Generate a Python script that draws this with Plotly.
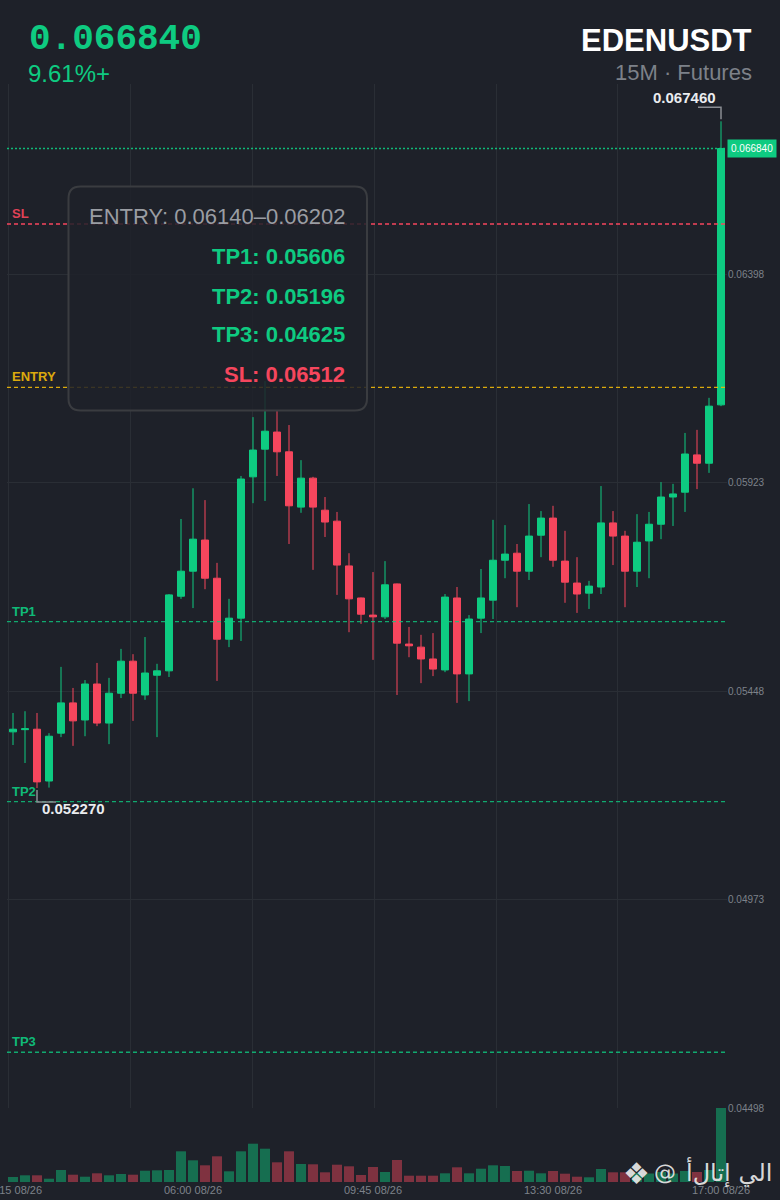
import pandas as pd
import plotly.graph_objects as go

# ---- data -------------------------------------------------------------
symbol = "EDENUSDT"
subtitle = "15M · Futures"
change_text = "9.61%+"
wm_logo = "❖"
wm_at = "@"
wm_name = "الي" + " " + "إتال" + "\u200c" + "أ"

times = pd.date_range("2025-08-26 02:15", periods=60, freq="15min")
time_ticks = ["02:15", "06:00", "09:45", "13:30", "17:00"]

opens = [0.05355, 0.05360, 0.05361, 0.05243, 0.05352, 0.05421, 0.05382, 0.05464, 0.05375, 0.05443,
         0.05516, 0.05439, 0.05484, 0.05494, 0.05664, 0.05721, 0.05792, 0.05705, 0.05566, 0.05614,
         0.05936, 0.05999, 0.06038, 0.05993, 0.05867, 0.05933, 0.05860, 0.05835, 0.05733, 0.05660,
         0.05621, 0.05617, 0.05692, 0.05555, 0.05548, 0.05521, 0.05496, 0.05660, 0.05487, 0.05614,
         0.05655, 0.05746, 0.05762, 0.05721, 0.05803, 0.05842, 0.05744, 0.05694, 0.05671, 0.05685,
         0.05831, 0.05801, 0.05721, 0.05790, 0.05828, 0.05890, 0.05901, 0.05986, 0.05967, 0.06100]
highs = [0.05398, 0.05402, 0.05398, 0.05352, 0.05503, 0.05455, 0.05473, 0.05512, 0.05478, 0.05544,
         0.05532, 0.05571, 0.05510, 0.05669, 0.05840, 0.05910, 0.05883, 0.05740, 0.05658, 0.05938,
         0.06072, 0.06154, 0.06088, 0.06054, 0.05974, 0.05936, 0.05890, 0.05856, 0.05762, 0.05661,
         0.05719, 0.05744, 0.05693, 0.05594, 0.05576, 0.05580, 0.05669, 0.05685, 0.05621, 0.05726,
         0.05838, 0.05826, 0.05783, 0.05874, 0.05858, 0.05870, 0.05813, 0.05753, 0.05699, 0.05915,
         0.05858, 0.05813, 0.05851, 0.05856, 0.05924, 0.05920, 0.06036, 0.06043, 0.06116, 0.06746]
lows = [0.05325, 0.05284, 0.05227, 0.05228, 0.05343, 0.05323, 0.05345, 0.05368, 0.05327, 0.05432,
        0.05380, 0.05428, 0.05343, 0.05480, 0.05658, 0.05637, 0.05680, 0.05471, 0.05548, 0.05562,
        0.05876, 0.05881, 0.05938, 0.05783, 0.05854, 0.05724, 0.05799, 0.05667, 0.05582, 0.05601,
        0.05519, 0.05612, 0.05439, 0.05525, 0.05466, 0.05482, 0.05491, 0.05421, 0.05425, 0.05580,
        0.05612, 0.05705, 0.05639, 0.05701, 0.05753, 0.05731, 0.05649, 0.05626, 0.05635, 0.05669,
        0.05735, 0.05639, 0.05685, 0.05705, 0.05794, 0.05824, 0.05856, 0.05908, 0.05945, 0.06097]
closes = [0.05361, 0.05362, 0.05241, 0.05345, 0.05421, 0.05380, 0.05464, 0.05375, 0.05443, 0.05516,
          0.05443, 0.05489, 0.05494, 0.05667, 0.05721, 0.05794, 0.05705, 0.05566, 0.05614, 0.05931,
          0.05997, 0.06040, 0.05993, 0.05870, 0.05933, 0.05867, 0.05833, 0.05735, 0.05658, 0.05623,
          0.05617, 0.05690, 0.05557, 0.05551, 0.05521, 0.05498, 0.05662, 0.05487, 0.05612, 0.05660,
          0.05746, 0.05760, 0.05721, 0.05801, 0.05842, 0.05746, 0.05696, 0.05669, 0.05687, 0.05831,
          0.05801, 0.05721, 0.05787, 0.05828, 0.05890, 0.05897, 0.05988, 0.05967, 0.06097, 0.06684]
volumes = [50, 67, 67, 33, 120, 73, 53, 87, 67, 80,
           73, 113, 117, 120, 307, 217, 167, 257, 107, 307,
           383, 333, 197, 307, 180, 177, 97, 173, 157, 70,
           150, 100, 220, 63, 63, 63, 87, 147, 87, 133,
           167, 160, 110, 113, 87, 110, 83, 53, 47, 130,
           97, 97, 90, 85, 100, 85, 110, 100, 120, 740]

entry_lo, entry_hi = 0.06140, 0.06202
tp_levels = {"TP1": 0.05606, "TP2": 0.05196, "TP3": 0.04625}
sl_level = 0.06512

price_ticks = [0.04498, 0.04973, 0.05448, 0.05923, 0.06398]

# ---- look ---------------------------------------------------------------
BG = "#1e2129"
GRID = "#2a2e35"
GREEN = "#0ecb81"
RED = "#f6465d"
GOLD = "#f0b90b"
GREY = "#7d8189"
FONT = "Liberation Sans, Arial, sans-serif"

W, H = 780, 1200
ML, MR, MT, MB = 7, 53, 84, 18
PW, PH = W - ML - MR, H - MT - MB
PRICE_BOTTOM = 1108          # pixel row where the price pane ends
Y_RANGE = [0.04498, 0.06831]


def fx(px):
    return (px - ML) / PW


def fy(py):
    return (H - MB - py) / PH


vol_top = fy(PRICE_BOTTOM)
price_per_px = (Y_RANGE[1] - Y_RANGE[0]) / (PRICE_BOTTOM - MT)
idx_per_px = 60 / PW

idx = list(range(len(times)))
vol_colors = ["rgba(14,203,129,0.45)" if c >= o else "rgba(246,70,93,0.45)"
              for o, c in zip(opens, closes)]
tick_idx = [i for i, t in enumerate(times) if t.strftime("%H:%M") in time_ticks]
tick_txt = [times[i].strftime("%H:%M %m/%d") for i in tick_idx]

fig = go.Figure()

fig.add_trace(go.Candlestick(
    x=idx, open=opens, high=highs, low=lows, close=closes,
    increasing=dict(line=dict(color=GREEN, width=1), fillcolor=GREEN),
    decreasing=dict(line=dict(color=RED, width=1), fillcolor=RED),
    whiskerwidth=0, hoverinfo="skip", showlegend=False,
    xaxis="x", yaxis="y",
))

fig.add_trace(go.Bar(
    x=idx, y=volumes, marker=dict(color=vol_colors, line=dict(width=0)),
    hoverinfo="skip", showlegend=False, xaxis="x2", yaxis="y2",
))

shapes = []
annotations = []

# level lines
levels = [
    (closes[-1], GREEN, "2px,2px", 0.9, None),
    (sl_level, RED, "4px,3px", 1, "SL"),
    (entry_lo, GOLD, "4px,3px", 0.9, "ENTRY"),
]
for name, val in tp_levels.items():
    levels.append((val, GREEN, "4px,3px", 0.8, name))

for val, col, dash, op, label in levels:
    shapes.append(dict(type="line", xref="paper", yref="y", x0=0, x1=1, y0=val, y1=val,
                       line=dict(color=col, width=1.3, dash=dash), opacity=op, layer="above"))
    if label:
        annotations.append(dict(xref="paper", yref="y", x=fx(10), y=val, xanchor="left",
                                yanchor="bottom", yshift=1, showarrow=False, text=f"<b>{label}</b>",
                                font=dict(family=FONT, size=13, color=col), opacity=0.9))

# signal box
bx0, bx1, by0, by1, r = 68.5, 367, 186.5, 410.5, 12
pts = [("M", bx0 + r, by0), ("L", bx1 - r, by0), ("Q", bx1, by0, bx1, by0 + r),
       ("L", bx1, by1 - r), ("Q", bx1, by1, bx1 - r, by1), ("L", bx0 + r, by1),
       ("Q", bx0, by1, bx0, by1 - r), ("L", bx0, by0 + r), ("Q", bx0, by0, bx0 + r, by0)]
path = ""
for p in pts:
    coords = p[1:]
    seg = " ".join(f"{fx(coords[i]):.5f},{fy(coords[i + 1]):.5f}" for i in range(0, len(coords), 2))
    path += f"{p[0]} {seg} "
shapes.append(dict(type="path", xref="paper", yref="paper", path=path + "Z",
                   fillcolor="rgba(30,33,41,0.85)", line=dict(color="#3a3c40", width=2),
                   layer="above"))

box_lines = [
    (f"ENTRY: {entry_lo:.5f}–{entry_hi:.5f}", "#9a9da3", False, 216.5),
    (f"TP1: {tp_levels['TP1']:.5f}", GREEN, True, 256.5),
    (f"TP2: {tp_levels['TP2']:.5f}", GREEN, True, 296.5),
    (f"TP3: {tp_levels['TP3']:.5f}", GREEN, True, 334.5),
    (f"SL: {sl_level:.5f}", RED, True, 374.5),
]
for txt, col, bold, ypx in box_lines:
    annotations.append(dict(xref="paper", yref="paper", x=fx(347), y=fy(ypx), xanchor="right",
                            yanchor="middle", showarrow=False,
                            text=f"<b>{txt}</b>" if bold else txt,
                            font=dict(family=FONT, size=22, color=col)))

# high / low markers
hi_i = highs.index(max(highs))
hi = highs[hi_i]
shapes.append(dict(type="path", xref="x", yref="y", layer="above",
                   path=(f"M {hi_i},{hi + 2 * price_per_px} L {hi_i},{hi + 14 * price_per_px} "
                         f"L {hi_i - 23 * idx_per_px},{hi + 14 * price_per_px}"),
                   line=dict(color="#8a8d93", width=1.5)))
annotations.append(dict(xref="x", yref="y", x=hi_i, y=hi, xanchor="right", yanchor="bottom",
                        xshift=-3, yshift=13, showarrow=False, text=f"<b>{hi:.6f}</b>",
                        font=dict(family=FONT, size=15, color="#eaecef")))

lo_i = lows.index(min(lows))
lo = lows[lo_i]
shapes.append(dict(type="path", xref="x", yref="y", layer="above",
                   path=(f"M {lo_i},{lo - 2 * price_per_px} L {lo_i},{lo - 14 * price_per_px} "
                         f"L {lo_i + 19 * idx_per_px},{lo - 14 * price_per_px}"),
                   line=dict(color="#8a8d93", width=1.5)))
annotations.append(dict(xref="x", yref="y", x=lo_i, y=lo, xanchor="left", yanchor="middle",
                        xshift=3, yshift=-20, showarrow=False, text=f"<b>{lo:.6f}</b>",
                        font=dict(family=FONT, size=15, color="#eaecef")))

# last price tag
annotations.append(dict(xref="paper", yref="y", x=1, y=closes[-1], xanchor="left", yanchor="middle",
                        showarrow=False, text=f"{closes[-1]:.6f}", bgcolor=GREEN, borderpad=3,
                        font=dict(family=FONT, size=10, color="white")))

# header
annotations += [
    dict(xref="paper", yref="paper", x=fx(27), y=fy(39), xanchor="left", yanchor="middle",
         showarrow=False, text=f"<b>{closes[-1]:.6f}</b>",
         font=dict(family="Liberation Mono, monospace", size=36, color=GREEN)),
    dict(xref="paper", yref="paper", x=fx(26), y=fy(74), xanchor="left", yanchor="middle",
         showarrow=False, text=change_text, font=dict(family=FONT, size=24, color=GREEN)),
    dict(xref="paper", yref="paper", x=fx(754), y=fy(41), xanchor="right", yanchor="middle",
         showarrow=False, text=f"<b>{symbol}</b>", font=dict(family=FONT, size=31, color="white")),
    dict(xref="paper", yref="paper", x=fx(754), y=fy(73), xanchor="right", yanchor="middle",
         showarrow=False, text=subtitle, font=dict(family=FONT, size=22, color=GREY)),
]

# watermark
WM = "rgba(235,235,235,0.92)"
annotations += [
    dict(xref="paper", yref="paper", x=fx(636), y=fy(1173), xanchor="center", yanchor="middle",
         showarrow=False, text=wm_logo, font=dict(family="DejaVu Sans, sans-serif", size=30, color=WM)),
    dict(xref="paper", yref="paper", x=fx(652), y=fy(1172), xanchor="left", yanchor="middle",
         showarrow=False, text=wm_at, font=dict(family="DejaVu Sans, sans-serif", size=22, color=WM)),
    dict(xref="paper", yref="paper", x=fx(774), y=fy(1172), xanchor="right", yanchor="middle",
         showarrow=False, text=wm_name, font=dict(family="DejaVu Sans, sans-serif", size=24, color=WM)),
]

fig.update_layout(
    width=W, height=H,
    margin=dict(l=ML, r=MR, t=MT, b=MB),
    paper_bgcolor=BG, plot_bgcolor=BG,
    boxgap=0.17, bargap=0.17,
    showlegend=False,
    shapes=shapes, annotations=annotations,
    xaxis=dict(domain=[0, 1], anchor="y", range=[-0.5, 59.5], tickmode="linear", tick0=-0.35,
               dtick=10.15, showticklabels=False, showgrid=True, gridcolor=GRID,
               zeroline=False, showline=False, rangeslider=dict(visible=False), fixedrange=True),
    xaxis2=dict(domain=[0, 1], anchor="y2", matches="x", tickmode="array", tickvals=tick_idx,
                ticktext=tick_txt, showgrid=False, zeroline=False, showline=False, ticks="",
                ticklabeloverflow="allow",
                tickfont=dict(family=FONT, size=11, color=GREY), automargin=False),
    yaxis=dict(domain=[vol_top, 1], anchor="x", range=Y_RANGE, side="right", tickmode="array",
               tickvals=price_ticks, ticktext=[f"{v:.5f}" for v in price_ticks],
               showgrid=True, gridcolor=GRID, zeroline=False, showline=False, ticks="",
               tickfont=dict(family=FONT, size=10, color=GREY), automargin=False),
    yaxis2=dict(domain=[0, vol_top], anchor="x2", range=[0, max(volumes)], visible=False),
)

# drop the default page margin so the 780x1200 figure fills the window
fig.write_html("out.html", config={"displayModeBar": False},
               post_script="document.body.style.margin = '0';")
